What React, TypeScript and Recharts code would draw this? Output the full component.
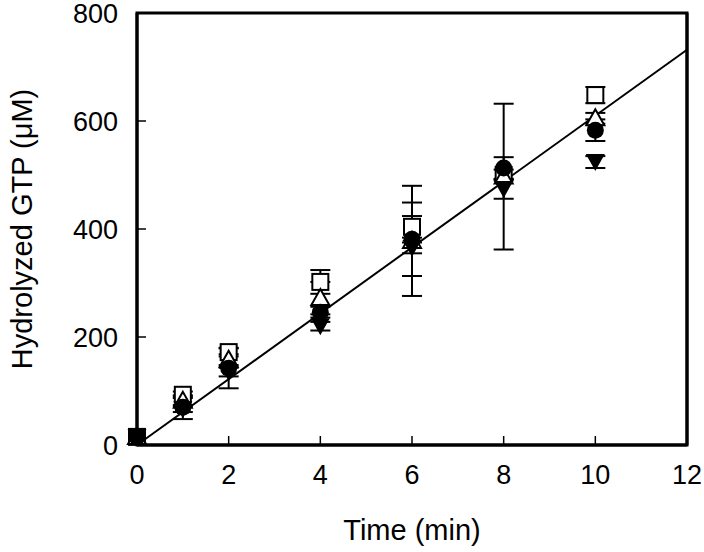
import React from 'react';
import {
  ScatterChart,
  Scatter,
  XAxis,
  YAxis,
  ErrorBar,
  ReferenceLine,
  ReferenceArea,
} from 'recharts';

const times = [0, 1, 2, 4, 6, 8, 10];
const squareVals = [15, 93, 172, 302, 404, 500, 648];
const squareErr = [0, 6, 8, 22, 20, 10, 15];
const triangleVals = [15, 82, 158, 272, 378, 497, 605];
const triangleErr = [0, 8, 10, 30, 102, 135, 10];
const circleVals = [15, 70, 142, 246, 381, 513, 583];
const circleErr = [0, 22, 37, 10, 68, 20, 20];
const invTriVals = [15, 66, 135, 220, 365, 474, 524];
const invTriErr = [0, 5, 8, 8, 10, 18, 11];
const fitLine = [
  { x: 0, y: 0 },
  { x: 12, y: 732 },
];
const xTicks = [0, 2, 4, 6, 8, 10, 12];
const yTicks = [0, 200, 400, 600, 800];

const build = (vals: number[], errs: number[]) =>
  times.map((t, i) => ({ x: t, y: vals[i], e: errs[i] }));

const squareData = build(squareVals, squareErr);
const triangleData = build(triangleVals, triangleErr);
const circleData = build(circleVals, circleErr);
const invTriData = build(invTriVals, invTriErr);

const FONT = '"Liberation Sans", Arial, Helvetica, sans-serif';

const SquareShape = (p: any) => (
  <rect x={p.cx - 8} y={p.cy - 8} width={16} height={16} fill="#fff" stroke="#000" strokeWidth={2} />
);
const TriShape = (p: any) => (
  <polygon
    points={`${p.cx},${p.cy - 9} ${p.cx - 9},${p.cy + 7} ${p.cx + 9},${p.cy + 7}`}
    fill="#fff"
    stroke="#000"
    strokeWidth={2}
  />
);
const CircleShape = (p: any) => <circle cx={p.cx} cy={p.cy} r={8.5} fill="#000" />;
const InvTriShape = (p: any) => (
  <polygon
    points={`${p.cx - 9.5},${p.cy - 8} ${p.cx + 9.5},${p.cy - 8} ${p.cx},${p.cy + 9}`}
    fill="#000"
  />
);

const tickStyle = { fontSize: 27, fill: '#000', fontFamily: FONT };

export default function App() {
  return (
    <div style={{ position: 'absolute', left: 0, top: 0, width: 704, height: 552 }}>
      <ScatterChart
        width={704}
        height={552}
        margin={{ top: 13, right: 0, bottom: 0, left: 0 }}
        style={{ fontFamily: FONT }}
      >
        <XAxis
          type="number"
          dataKey="x"
          domain={[0, 12]}
          ticks={xTicks}
          interval={0}
          height={107}
          tickSize={-9}
          tickMargin={29}
          tick={tickStyle}
          tickLine={{ stroke: '#000', strokeWidth: 1.5 }}
          axisLine={{ stroke: '#000', strokeWidth: 3 }}
          label={{
            value: 'Time (min)',
            position: 'insideBottom',
            offset: 12,
            style: { fontSize: 29, fill: '#000', fontFamily: FONT },
          }}
        />
        <YAxis
          type="number"
          dataKey="y"
          domain={[0, 800]}
          ticks={yTicks}
          interval={0}
          width={137}
          tickSize={-9}
          tickMargin={28}
          tick={tickStyle}
          tickLine={{ stroke: '#000', strokeWidth: 1.5 }}
          axisLine={{ stroke: '#000', strokeWidth: 3 }}
          label={{
            value: 'Hydrolyzed GTP (\u03BCM)',
            angle: -90,
            position: 'insideLeft',
            offset: 22,
            style: { fontSize: 29, fill: '#000', fontFamily: FONT, textAnchor: 'middle' },
          }}
        />
        <YAxis
          yAxisId="r"
          orientation="right"
          type="number"
          domain={[0, 800]}
          ticks={yTicks}
          interval={0}
          width={17}
          tickSize={-9}
          tick={false}
          tickLine={{ stroke: '#000', strokeWidth: 1.5 }}
          axisLine={{ stroke: '#000', strokeWidth: 3 }}
        />
        <ReferenceArea
          x1={0}
          x2={12}
          y1={0}
          y2={800}
          fill="none"
          fillOpacity={0}
          stroke="#000"
          strokeWidth={3}
          ifOverflow="visible"
        />
        <ReferenceLine segment={fitLine} stroke="#000" strokeWidth={2} ifOverflow="visible" />
        <Scatter data={squareData} shape={SquareShape} isAnimationActive={false}>
          <ErrorBar dataKey="e" direction="y" width={10} stroke="#000" strokeWidth={2} />
        </Scatter>
        <Scatter data={triangleData} shape={TriShape} isAnimationActive={false}>
          <ErrorBar dataKey="e" direction="y" width={10} stroke="#000" strokeWidth={2} />
        </Scatter>
        <Scatter data={invTriData} shape={InvTriShape} isAnimationActive={false}>
          <ErrorBar dataKey="e" direction="y" width={10} stroke="#000" strokeWidth={2} />
        </Scatter>
        <Scatter data={circleData} shape={CircleShape} isAnimationActive={false}>
          <ErrorBar dataKey="e" direction="y" width={10} stroke="#000" strokeWidth={2} />
        </Scatter>
      </ScatterChart>
    </div>
  );
}
